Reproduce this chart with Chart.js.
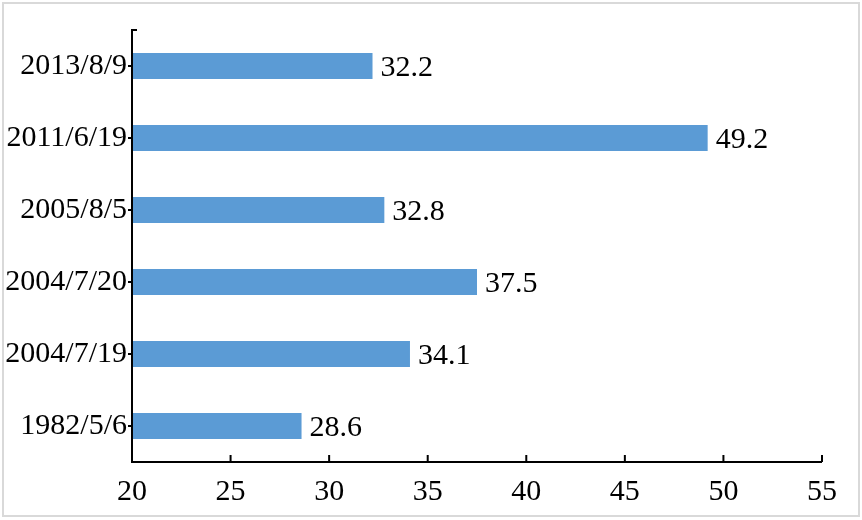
<!DOCTYPE html>
<html>
<head>
<meta charset="utf-8">
<script src="https://cdn.jsdelivr.net/npm/chart.js@4"></script>
<style>
  body { margin: 0; background: #fff; }
  #box { width: 862px; height: 520px; }
</style>
</head>
<body>
<div id="box"><canvas id="chart"></canvas></div>
<script>
// data, top to bottom
const dates = ["2013/8/9", "2011/6/19", "2005/8/5", "2004/7/20", "2004/7/19", "1982/5/6"];
const values = [32.2, 49.2, 32.8, 37.5, 34.1, 28.6];
const xTicks = [20, 25, 30, 35, 40, 45, 50, 55];

const serif = "'Liberation Serif', 'Times New Roman', serif";

// white page with light grey frame, then axes with inward x ticks
const framePlugin = {
    id: "frame",
    beforeDraw(chart) {
        const c = chart.ctx;
        c.save();
        c.fillStyle = "#fff";
        c.fillRect(0, 0, chart.width, chart.height);
        c.strokeStyle = "#d9d9d9";
        c.lineWidth = 2;
        c.strokeRect(3, 3, chart.width - 6, chart.height - 7);
        c.restore();
    },
    afterDatasetsDraw(chart) {
        const c = chart.ctx;
        const a = chart.chartArea;
        const xs = chart.scales.x;
        const ys = chart.scales.y;
        c.save();
        c.strokeStyle = "#000";
        c.lineWidth = 2;
        c.beginPath();
        // y axis line with small cap at top
        c.moveTo(a.left + 5, a.top);
        c.lineTo(a.left, a.top);
        c.lineTo(a.left, a.bottom);
        c.lineTo(a.right, a.bottom);
        // x ticks pointing up
        xTicks.forEach(function(t) {
            if (t === 20) return;
            const px = xs.getPixelForValue(t);
            c.moveTo(px, a.bottom);
            c.lineTo(px, a.bottom - 7);
        });
        // y ticks pointing left
        dates.forEach(function(d, i) {
            const py = ys.getPixelForValue(i);
            c.moveTo(a.left, py);
            c.lineTo(a.left - 4, py);
        });
        c.stroke();

        // value labels
        c.fillStyle = "#000";
        c.font = "30px " + serif;
        c.textAlign = "left";
        c.textBaseline = "middle";
        chart.getDatasetMeta(0).data.forEach(function(bar, i) {
            c.fillText(values[i].toFixed(1), bar.x + 8, bar.y + 2);
        });
        c.restore();
    }
};

new Chart(
    document.querySelector("canvas#chart"),
    {
        type: "bar",
        data: {
            labels: dates,
            datasets: [
                {
                    data: values,
                    backgroundColor: "#5b9bd5",
                    borderWidth: 0,
                    categoryPercentage: 1,
                    barPercentage: 0.36
                }
            ]
        },
        options: {
            indexAxis: "y",
            responsive: true,
            maintainAspectRatio: false,
            animation: false,
            layout: { padding: { left: 0, right: 40, top: 30, bottom: 0 } },
            plugins: {
                legend: { display: false },
                tooltip: { enabled: false }
            },
            scales: {
                x: {
                    min: 20,
                    max: 55,
                    afterBuildTicks(scale) {
                        scale.ticks = xTicks.map(v => ({ value: v }));
                    },
                    afterFit(scale) { scale.height = 58; },
                    grid: { display: false, drawTicks: false },
                    border: { display: false },
                    ticks: {
                        color: "#000",
                        font: { family: serif, size: 30 },
                        padding: 12,
                        maxRotation: 0
                    }
                },
                y: {
                    afterFit(scale) { scale.width = 132; },
                    grid: { display: false, drawTicks: false },
                    border: { display: false },
                    ticks: {
                        color: "#000",
                        font: { family: serif, size: 30 },
                        padding: 5
                    }
                }
            }
        },
        plugins: [framePlugin]
    }
);
</script>
</body>
</html>
